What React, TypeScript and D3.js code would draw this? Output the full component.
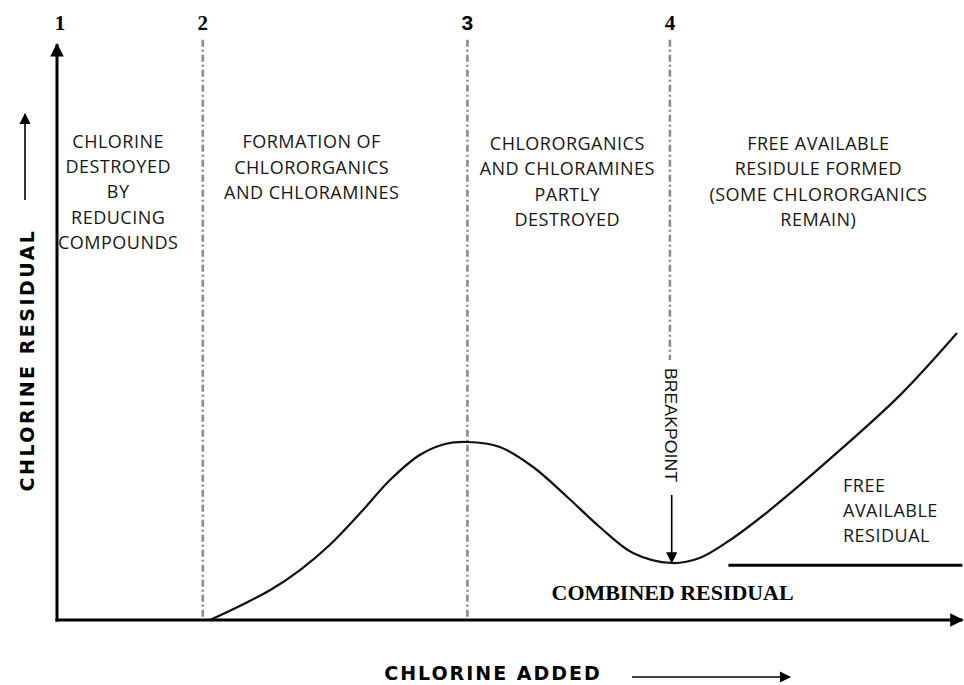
import React from "react";
import * as d3 from "d3";

const W = 964;
const H = 685;

// Chlorine added (x, 0..100) vs chlorine residual (y, 0..100)
const curveX = [17.0, 20.3, 23.7, 27.0, 30.3, 33.7, 37.0, 40.3, 43.1, 45.6, 49.2, 52.9, 56.7, 60.3, 64.0, 68.3, 71.4, 74.8, 78.9, 86.2, 93.7, 100.0];
const curveY = [0, 2.46, 5.26, 8.77, 13.16, 18.77, 24.56, 28.95, 30.88, 31.23, 30.35, 26.84, 21.58, 16.32, 11.75, 10.0, 10.88, 14.04, 18.9, 28.7, 39.5, 50.35];

const phaseNumbers = ["1", "2", "3", "4"];
const phaseX = [0, 16.2, 45.6, 68.1];
// lower end (residual level) where each divider stops
const phaseLineBottom = [0, 0, 0, 45.6];

const regionCenters = [6.8, 28.3, 56.7, 84.6];
const regionLines = [
  ["CHLORINE", "DESTROYED", "BY", "REDUCING", "COMPOUNDS"],
  ["FORMATION OF", "CHLORORGANICS", "AND CHLORAMINES"],
  ["CHLORORGANICS", "AND CHLORAMINES", "PARTLY", "DESTROYED"],
  ["FREE AVAILABLE", "RESIDULE FORMED", "(SOME CHLORORGANICS", "REMAIN)"],
];
const regionTop = [84.0, 83.9, 83.6, 83.6];

const breakpointX = 68.3;
const freeResidualStart = 74.6;
const freeResidualEnd = 100.6;
const freeResidualLevel = 9.6;
const freeLabel = ["FREE", "AVAILABLE", "RESIDUAL"];

export default function App() {
  const x = d3.scaleLinear().domain([0, 100]).range([57, 957]);
  const y = d3.scaleLinear().domain([0, 100]).range([620, 50]);

  const pts: [number, number][] = curveX.map((v, i) => [v, curveY[i]]);
  const line = d3
    .line<[number, number]>()
    .x((d) => x(d[0]))
    .y((d) => y(d[1]))
    .curve(d3.curveCatmullRom.alpha(0.5));

  const x0 = x(0);
  const y0 = y(0);
  const lineH = 25.3;
  const textFont = "'Open Sans', 'Noto Sans', sans-serif";

  return (
    <svg
      width={W}
      height={H}
      style={{ position: "absolute", left: 0, top: 0, background: "#fff" }}
    >
      <defs>
        <marker id="ah" viewBox="0 0 10 10" refX="9" refY="5" markerWidth="5" markerHeight="4.5" orient="auto" markerUnits="strokeWidth">
          <path d="M0,0 L10,5 L0,10 z" fill="#000" />
        </marker>
        <marker id="ahs" viewBox="0 0 10 10" refX="9" refY="5" markerWidth="8" markerHeight="7" orient="auto" markerUnits="strokeWidth">
          <path d="M0,0 L10,5 L0,10 z" fill="#000" />
        </marker>
      </defs>
      <rect width={W} height={H} fill="#fff" />

      {/* phase divider lines */}
      {phaseX.slice(1).map((v, i) => (
        <line
          key={"d" + i}
          x1={x(v)}
          x2={x(v)}
          y1={y(101.8)}
          y2={y(phaseLineBottom[i + 1])}
          stroke="#8c8c8c"
          strokeWidth={2.6}
          strokeDasharray="7,3,2,3"
        />
      ))}

      {/* phase numbers */}
      {phaseNumbers.map((n, i) => (
        <text
          key={"n" + i}
          x={x(phaseX[i]) + (i === 0 ? 3 : 0)}
          y={30}
          textAnchor="middle"
          fontFamily={i === 2 ? "'Liberation Sans', Arial, sans-serif" : "'Liberation Serif', 'Times New Roman', serif"}
          fontWeight="bold"
          fontSize={21}
          fill="#000"
        >
          {n}
        </text>
      ))}

      {/* axes */}
      <line x1={x0} x2={x0} y1={y0 + 1.5} y2={y(101)} stroke="#000" strokeWidth={3} markerEnd="url(#ah)" />
      <line x1={x0 - 1.5} x2={x(100.6)} y1={y0} y2={y0} stroke="#000" strokeWidth={3} markerEnd="url(#ah)" />

      {/* curve */}
      <path d={line(pts) || ""} fill="none" stroke="#111" strokeWidth={2.2} />

      {/* free residual baseline */}
      <line
        x1={x(freeResidualStart)}
        x2={x(freeResidualEnd)}
        y1={y(freeResidualLevel)}
        y2={y(freeResidualLevel)}
        stroke="#000"
        strokeWidth={3}
      />

      {/* region labels */}
      {regionLines.map((lines, i) => (
        <text
          key={"r" + i}
          textAnchor="middle"
          fontFamily={textFont}
          fontSize={18}
          letterSpacing={0.5}
          fill="#161616"
        >
          {lines.map((t, j) => (
            <tspan key={j} x={x(regionCenters[i])} y={y(regionTop[i]) + 6.5 + j * lineH}>
              {t}
            </tspan>
          ))}
        </text>
      ))}

      {/* free available residual label */}
      <text fontFamily={textFont} fontSize={18} letterSpacing={0.5} fill="#161616">
        {freeLabel.map((t, j) => (
          <tspan key={j} x={843} y={491.5 + j * 25}>
            {t}
          </tspan>
        ))}
      </text>

      {/* breakpoint */}
      <text
        transform={`translate(${x(breakpointX) - 7},368) rotate(90)`}
        fontFamily="'Liberation Sans', Arial, sans-serif"
        fontSize={17}
        fill="#111"
        textLength={114}
        lengthAdjust="spacingAndGlyphs"
      >
        BREAKPOINT
      </text>
      <line
        x1={x(breakpointX)}
        x2={x(breakpointX)}
        y1={495}
        y2={y(10.1)}
        stroke="#000"
        strokeWidth={1.6}
        markerEnd="url(#ahs)"
      />

      {/* combined residual */}
      <text
        x={x(68.4)}
        y={600}
        textAnchor="middle"
        fontFamily="'Liberation Serif', 'Times New Roman', serif"
        fontWeight="bold"
        fontSize={20}
        fill="#000"
        textLength={242}
        lengthAdjust="spacingAndGlyphs"
      >
        COMBINED RESIDUAL
      </text>

      {/* axis titles */}
      <text
        transform="translate(34,360) rotate(-90)"
        textAnchor="middle"
        fontFamily="'DejaVu Sans', Verdana, sans-serif"
        fontWeight="bold"
        fontSize={19}
        letterSpacing={2.5}
        fill="#000"
      >
        CHLORINE RESIDUAL
      </text>
      <line x1={25} x2={25} y1={200} y2={114} stroke="#000" strokeWidth={1.6} markerEnd="url(#ahs)" />

      <text
        x={493}
        y={680}
        textAnchor="middle"
        fontFamily="'DejaVu Sans', Verdana, sans-serif"
        fontWeight="bold"
        fontSize={19}
        letterSpacing={2}
        fill="#000"
      >
        CHLORINE ADDED
      </text>
      <line x1={632} x2={790} y1={677} y2={677} stroke="#000" strokeWidth={1.6} markerEnd="url(#ahs)" />
    </svg>
  );
}
